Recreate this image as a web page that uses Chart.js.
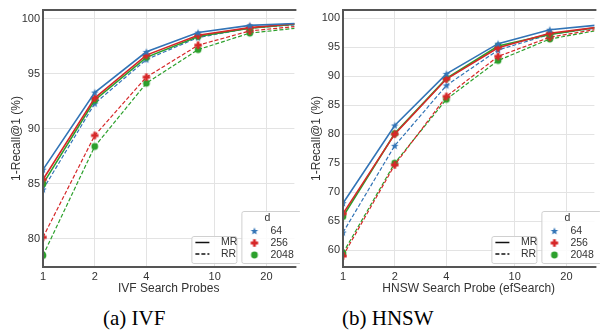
<!DOCTYPE html>
<html>
<head>
<meta charset="utf-8">
<script src="https://cdn.jsdelivr.net/npm/chart.js@4"></script>
<style>
  body { margin: 0; width: 600px; height: 335px; background: #fff; position: relative; overflow: hidden; }
  canvas { position: absolute; top: 0; }
  .cap { position: absolute; top: 306px; font-family: "Liberation Serif", serif; font-size: 21px; color: #000; }
</style>
</head>
<body>
<canvas id="ivfChart" width="300" height="296" style="left:0"></canvas>
<canvas id="hnswChart" width="300" height="296" style="left:300px"></canvas>
<div class="cap" style="left:103px">(a) IVF</div>
<div class="cap" style="left:342px">(b) HNSW</div>
<script>
var probes = [1, 2, 4, 8, 16, 32];
var xTicks = [1, 2, 4, 10, 20];
var dims = ['64', '256', '2048'];

// IVF
var ivfMR64   = [86.3, 93.3, 97.0, 98.75, 99.4, 99.6];
var ivfMR256  = [85.4, 92.8, 96.7, 98.5, 99.2, 99.6];
var ivfMR2048 = [85.0, 92.6, 96.5, 98.4, 99.15, 99.55];
var ivfRR64   = [84.5, 92.3, 96.3, 98.3, 99.15, 99.5];
var ivfRR256  = [80.15, 89.4, 94.7, 97.6, 98.9, 99.35];
var ivfRR2048 = [78.5, 88.4, 94.15, 97.2, 98.7, 99.2];
var ivfYTicks = [80, 85, 90, 95, 100];

// HNSW
var hnswMR64   = [68.1, 81.5, 90.4, 95.6, 98.0, 98.85];
var hnswMR256  = [66.3, 80.0, 89.5, 94.9, 97.4, 98.5];
var hnswMR2048 = [65.8, 80.1, 89.6, 95.2, 97.2, 98.5];
var hnswRR64   = [63.05, 78.0, 88.4, 94.5, 97.2, 98.4];
var hnswRR256  = [59.0, 74.7, 86.5, 93.4, 96.7, 98.2];
var hnswRR2048 = [59.5, 75.0, 86.0, 92.7, 96.4, 98.0];
var hnswYTicks = [60, 65, 70, 75, 80, 85, 90, 95, 100];

var colors = { '64': '#3274b6', '256': '#d62728', '2048': '#2ca02c' };

function marker(shape, color) {
  var c = document.createElement('canvas');
  c.width = 12; c.height = 12;
  var g = c.getContext('2d');
  g.fillStyle = color;
  g.beginPath();
  if (shape === 'star') {
    for (var i = 0; i < 10; i++) {
      var r = i % 2 ? 1.7 : 4.0;
      var a = -Math.PI / 2 + i * Math.PI / 5;
      g.lineTo(6 + r * Math.cos(a), 6.3 + r * Math.sin(a));
    }
    g.closePath();
  } else if (shape === 'plus') {
    g.rect(4.6, 2.3, 2.8, 7.4);
    g.rect(2.3, 4.6, 7.4, 2.8);
  } else {
    g.arc(6, 6, 3.4, 0, Math.PI * 2);
  }
  g.fill();
  return c;
}
var markers = { '64': marker('star', colors['64']), '256': marker('plus', colors['256']), '2048': marker('circle', colors['2048']) };

function series(label, vals, d, dashed) {
  return {
    label: label,
    data: probes.map(function (p, i) { return { x: p, y: vals[i] }; }),
    borderColor: colors[d],
    backgroundColor: colors[d],
    borderWidth: dashed ? 1.2 : 1.6,
    borderDash: dashed ? [4, 2] : [],
    pointStyle: markers[d],
    pointRadius: 4,
    fill: false,
    tension: 0
  };
}

var framePlugin = {
  id: 'frame',
  afterDatasetsDraw: function (chart) {
    var ctx = chart.ctx, a = chart.chartArea;
    ctx.save();
    ctx.strokeStyle = '#555';
    ctx.lineWidth = 2;
    ctx.beginPath();
    ctx.moveTo(a.right + 2, a.top);
    ctx.lineTo(a.left, a.top);
    ctx.lineTo(a.left, a.bottom);
    ctx.lineTo(a.right + 2, a.bottom);
    ctx.stroke();

    // legend boxes
    function box(x, y, w, h) {
      ctx.beginPath();
      ctx.roundRect(x, y, w, h, 2);
      ctx.fillStyle = 'rgba(255,255,255,0.85)';
      ctx.fill();
      ctx.strokeStyle = '#d0d0d0';
      ctx.lineWidth = 1;
      ctx.stroke();
    }
    var R = a.right, B = a.bottom;
    box(R - 102.5, B - 30.5, 45, 27);
    ctx.font = '10.5px "Liberation Sans", Arial, sans-serif';
    ctx.fillStyle = '#333';
    ctx.textBaseline = 'middle';
    ctx.textAlign = 'left';
    ctx.strokeStyle = '#111';
    ctx.lineWidth = 1.5;
    ctx.beginPath();
    ctx.moveTo(R - 99, B - 24.5); ctx.lineTo(R - 85, B - 24.5);
    ctx.stroke();
    ctx.setLineDash([4, 2]);
    ctx.beginPath();
    ctx.moveTo(R - 99, B - 13); ctx.lineTo(R - 85, B - 13);
    ctx.stroke();
    ctx.setLineDash([]);
    ctx.fillText('MR', R - 73.5, B - 24.5);
    ctx.fillText('RR', R - 73.5, B - 13);

    box(R - 52.5, B - 55.5, 60, 52);
    ctx.fillStyle = '#333';
    ctx.textAlign = 'center';
    ctx.fillText('d', R - 27, B - 49);
    ctx.textAlign = 'left';
    dims.forEach(function (d, i) {
      var y = B - 36 + i * 12;
      ctx.drawImage(markers[d], R - 46, y - 6);
      ctx.fillText(d, R - 24, y);
    });
    ctx.restore();
  }
};

function makeChart(id, data, yTicks, yMin, yMax, xTitle) {
  return new Chart(document.getElementById(id), {
    type: 'line',
    data: { datasets: data },
    plugins: [framePlugin],
    options: {
      responsive: false,
      animation: false,
      layout: { padding: { top: 10, right: 0, left: 0, bottom: 0 } },
      plugins: { legend: { display: false }, tooltip: { enabled: false } },
      scales: {
        x: {
          type: 'logarithmic',
          min: 1,
          max: 29.1,
          afterBuildTicks: function (axis) { axis.ticks = xTicks.map(function (v) { return { value: v }; }); },
          afterFit: function (axis) { axis.height = 29; },
          ticks: { color: '#333', font: { size: 11, family: '"Liberation Sans", Arial' }, padding: 3, maxRotation: 0, callback: function (v) { return String(v); } },
          grid: { color: '#e3e3e3', lineWidth: 1, drawTicks: false },
          border: { display: false },
          title: { display: true, text: xTitle, color: '#333', font: { size: 12, family: '"Liberation Sans", Arial' }, padding: { top: 0, bottom: 0 } }
        },
        y: {
          min: yMin,
          max: yMax,
          afterBuildTicks: function (axis) { axis.ticks = yTicks.map(function (v) { return { value: v }; }); },
          afterFit: function (axis) { axis.width = 43; },
          ticks: { color: '#333', font: { size: 11, family: '"Liberation Sans", Arial' }, padding: 3 },
          grid: { color: '#e3e3e3', lineWidth: 1, drawTicks: false },
          border: { display: false },
          title: { display: true, text: '1-Recall@1 (%)', color: '#333', font: { size: 12, family: '"Liberation Sans", Arial' }, padding: { top: 9, bottom: 0 } }
        }
      }
    }
  });
}

makeChart('ivfChart', [
  series('MR 64', ivfMR64, '64', false),
  series('MR 256', ivfMR256, '256', false),
  series('MR 2048', ivfMR2048, '2048', false),
  series('RR 64', ivfRR64, '64', true),
  series('RR 256', ivfRR256, '256', true),
  series('RR 2048', ivfRR2048, '2048', true)
], ivfYTicks, 77.45, 100.8, 'IVF Search Probes');

makeChart('hnswChart', [
  series('MR 64', hnswMR64, '64', false),
  series('MR 256', hnswMR256, '256', false),
  series('MR 2048', hnswMR2048, '2048', false),
  series('RR 64', hnswRR64, '64', true),
  series('RR 256', hnswRR256, '256', true),
  series('RR 2048', hnswRR2048, '2048', true)
], hnswYTicks, 57.1, 101.4, 'HNSW Search Probe (efSearch)');
</script>
</body>
</html>
